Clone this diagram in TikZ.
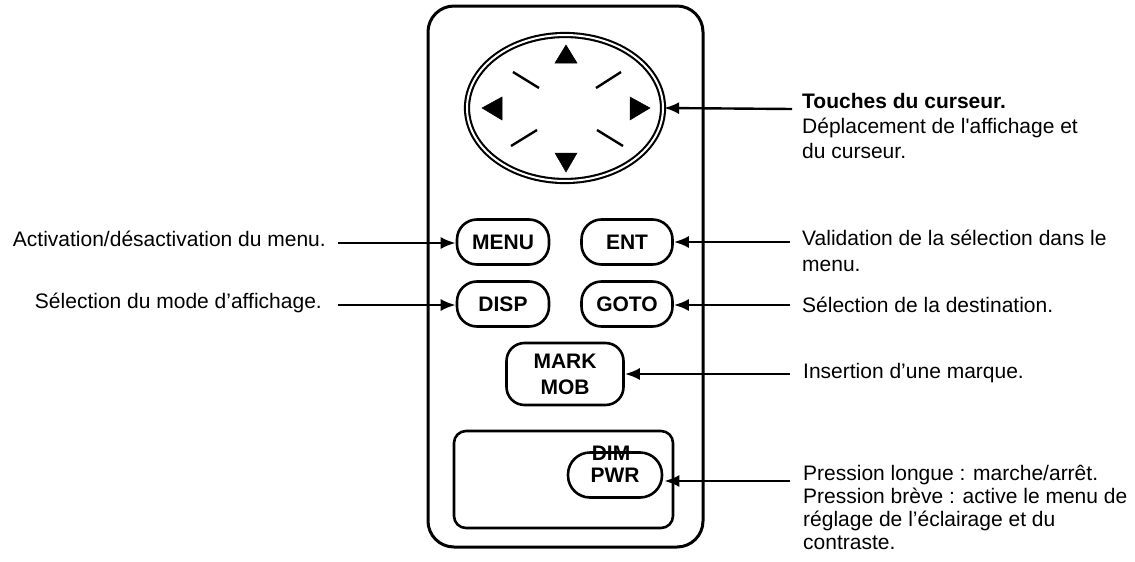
\documentclass[tikz,border=0pt]{standalone}
\usepackage{fontspec}
\setmainfont{Liberation Sans}
\usetikzlibrary{shapes.geometric,arrows.meta}
\tikzset{
  keybtn/.style={draw, line width=2.6pt, rounded corners=20pt, inner sep=0pt,
    font=\fontsize{21}{26}\selectfont\bfseries, align=center},
  frame/.style={draw, line width=3pt},
  arr/.style={line width=2.4pt, -{Latex[length=15pt,width=12pt]}},
  lbl/.style={inner sep=0pt, font=\fontsize{21}{25}\selectfont, align=left},
  tri/.style={fill=black, draw=black, line width=0.5pt, line join=miter},
  dashline/.style={line width=2.4pt},
}
\newcommand{\fl}{\rule{0pt}{16pt}}
\begin{document}
\begin{tikzpicture}[x=1pt,y=-1pt]
\useasboundingbox (0,0) rectangle (1135,562);
% outer body
\draw[frame, rounded corners=26pt] (428,6) rectangle (703,547);
% inner panel
\draw[line width=2.6pt, rounded corners=12pt] (454,431) rectangle (673,528);
% cursor pad
\node[ellipse, draw, double, line width=2.1pt, double distance=2pt,
  minimum width=196pt, minimum height=146pt, inner sep=0pt] (pad) at (565,108) {};
% triangles
\fill[tri] (566,45) -- (555,63) -- (577,63) -- cycle;
\fill[tri] (566,172) -- (555,153) -- (577,153) -- cycle;
\fill[tri] (482,108) -- (502,97) -- (502,120) -- cycle;
\fill[tri] (650,108) -- (630,97) -- (630,120) -- cycle;
% diagonal marks
\draw[dashline] (513,72) -- (539,88);
\draw[dashline] (596,88) -- (621,72);
\draw[dashline] (511,146) -- (537,130);
\draw[dashline] (597,130) -- (623,146);
% keys
\node[keybtn, minimum width=92pt, minimum height=45pt] (menu) at (503,242) {MENU};
\node[keybtn, minimum width=91pt, minimum height=45pt] (ent) at (627,242) {ENT};
\node[keybtn, minimum width=92pt, minimum height=45pt] (disp) at (503,304) {DISP};
\node[keybtn, minimum width=91pt, minimum height=45pt] (goto) at (627,304) {GOTO};
\node[keybtn, minimum width=117pt, minimum height=62pt, rounded corners=18pt] (mark) at (565,374) {MARK\\MOB};
\node[keybtn, minimum width=94pt, minimum height=45pt, rounded corners=22pt] (pwr) at (615,475) {PWR};
\node[inner sep=0pt, font=\fontsize{21}{26}\selectfont\bfseries, anchor=base] (dim) at (611,460) {DIM};
% labels
\node[lbl, anchor=base east] (tmenu) at (326,246) {Activation/désactivation du menu.};
\node[lbl, anchor=base east] (tdisp) at (322,308) {Sélection du mode d’affichage.};
\node[lbl, anchor=north west, font=\fontsize{21}{25}\selectfont] (tcur) at (802,92)
  {\fl\textbf{Touches du curseur.}\\Déplacement de l\textquotesingle affichage et\\du curseur.};
\node[lbl, anchor=north west, font=\fontsize{21}{26}\selectfont] (tent) at (802,229)
  {\fl Validation de la sélection dans le\\menu.};
\node[lbl, anchor=base west] (tgoto) at (802,312) {Sélection de la destination.};
\node[lbl, anchor=base west] (tmark) at (803,378) {Insertion d’une marque.};
\node[lbl, anchor=north west, font=\fontsize{21}{23}\selectfont] (tpwr) at (803,464)
  {\fl Pression longue : marche/arrêt.\\Pression brève : active le menu de\\réglage de l’éclairage et du\\contraste.};
% connector ends
\coordinate (cmenu) at (338,243);
\coordinate (cdisp) at (338,305);
\coordinate (ccur) at (792,109);
\coordinate (cent) at (790,242);
\coordinate (cgoto) at (790,305);
\coordinate (cmark) at (790,374);
\coordinate (cpwr) at (790,481);
\draw[arr] (cmenu) -- (cmenu -| menu.west);
\draw[arr] (cdisp) -- (cdisp -| disp.west);
\draw[arr] (ccur) -- (pad.east);
\draw[arr] (cent) -- (cent -| ent.east);
\draw[arr] (cgoto) -- (cgoto -| goto.east);
\draw[arr] (cmark) -- (cmark -| mark.east);
\draw[arr] (cpwr) -- ([xshift=1pt]cpwr -| pwr.east);
\end{tikzpicture}
\end{document}
